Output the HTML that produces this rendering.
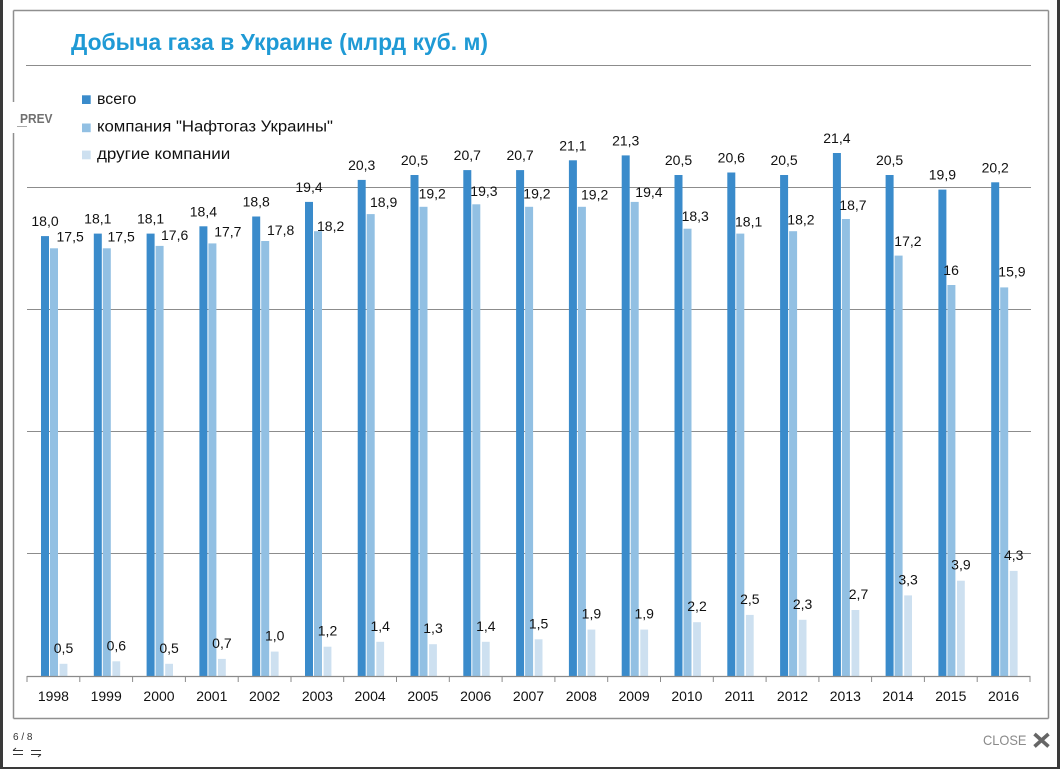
<!DOCTYPE html>
<html><head><meta charset="utf-8"><style>
html,body{margin:0;padding:0;background:#fff;width:1060px;height:769px;overflow:hidden}
svg{display:block}
text{font-family:"Liberation Sans",sans-serif}
</style></head><body>
<svg width="1060" height="769" viewBox="0 0 1060 769" xmlns="http://www.w3.org/2000/svg">
<rect x="0" y="0" width="1060" height="769" fill="#fff"/>
<!-- frame -->
<line x1="13.5" y1="10.5" x2="1048.5" y2="10.5" stroke="#8f8f8f" stroke-width="1.5"/>
<line x1="1048.5" y1="10.5" x2="1048.5" y2="718.5" stroke="#8f8f8f" stroke-width="1.5"/>
<line x1="13.5" y1="718.5" x2="1048.5" y2="718.5" stroke="#8f8f8f" stroke-width="1.5"/>
<line x1="13.5" y1="10.5" x2="13.5" y2="102" stroke="#8f8f8f" stroke-width="1.5"/>
<line x1="13.5" y1="133" x2="13.5" y2="718.5" stroke="#8f8f8f" stroke-width="1.5"/>
<!-- dark strips -->
<rect x="0" y="0" width="3" height="769" fill="#3a3a3a"/>
<rect x="1057" y="0" width="3" height="769" fill="#3a3a3a"/>
<rect x="0" y="767" width="1060" height="2" fill="#3a3a3a"/>

<!-- title -->
<text x="71" y="50" font-size="23" font-weight="bold" fill="#1f9ad5" textLength="417" lengthAdjust="spacingAndGlyphs">Добыча газа в Украине (млрд куб. м)</text>

<!-- gridlines -->
<g stroke="#8c8c8c" stroke-width="1">
<line x1="26" y1="65.5" x2="1031" y2="65.5"/>
<line x1="27" y1="187.5" x2="1031" y2="187.5"/>
<line x1="27" y1="309.5" x2="1031" y2="309.5"/>
<line x1="27" y1="431.5" x2="1031" y2="431.5"/>
<line x1="27" y1="553.5" x2="1031" y2="553.5"/>
</g>

<!-- legend -->
<rect x="82" y="95.3" width="8.7" height="8.7" fill="#3a8bcb"/>
<text x="97" y="104" font-size="15.5" fill="#111" textLength="39.3" lengthAdjust="spacingAndGlyphs">всего</text>
<rect x="82" y="123.5" width="8.7" height="8.7" fill="#92c0e3"/>
<text x="97" y="131.5" font-size="15.5" fill="#111" textLength="236" lengthAdjust="spacingAndGlyphs">компания "Нафтогаз Украины"</text>
<rect x="82" y="150.6" width="8.7" height="8.7" fill="#cde0f0"/>
<text x="97" y="159" font-size="15.5" fill="#111" textLength="133.3" lengthAdjust="spacingAndGlyphs">другие компании</text>

<!-- PREV -->
<text x="20" y="123" font-size="13" font-weight="bold" fill="#707070" textLength="32.5" lengthAdjust="spacingAndGlyphs">PREV</text>
<line x1="17" y1="126.5" x2="27" y2="126.5" stroke="#aaa" stroke-width="1"/>

<!-- dark bars (всего) -->
<g fill="#3a8bcb">
<rect x="41.0" y="236.1" width="8" height="439.9"/>
<rect x="93.8" y="233.6" width="8" height="442.4"/>
<rect x="146.6" y="233.6" width="8" height="442.4"/>
<rect x="199.4" y="226.3" width="8" height="449.7"/>
<rect x="252.2" y="216.5" width="8" height="459.5"/>
<rect x="305.0" y="201.9" width="8" height="474.1"/>
<rect x="357.7" y="179.9" width="8" height="496.1"/>
<rect x="410.5" y="175.0" width="8" height="501.0"/>
<rect x="463.3" y="170.1" width="8" height="505.9"/>
<rect x="516.1" y="170.1" width="8" height="505.9"/>
<rect x="568.9" y="160.3" width="8" height="515.7"/>
<rect x="621.7" y="155.4" width="8" height="520.6"/>
<rect x="674.5" y="175.0" width="8" height="501.0"/>
<rect x="727.3" y="172.5" width="8" height="503.5"/>
<rect x="780.1" y="175.0" width="8" height="501.0"/>
<rect x="832.9" y="153.0" width="8" height="523.0"/>
<rect x="885.6" y="175.0" width="8" height="501.0"/>
<rect x="938.4" y="189.6" width="8" height="486.4"/>
<rect x="991.2" y="182.3" width="8" height="493.7"/>
</g>
<!-- mid bars (Нафтогаз) -->
<g fill="#92c0e3">
<rect x="50.0" y="248.3" width="8" height="427.7"/>
<rect x="102.8" y="248.3" width="8" height="427.7"/>
<rect x="155.6" y="245.9" width="8" height="430.1"/>
<rect x="208.4" y="243.4" width="8" height="432.6"/>
<rect x="261.2" y="241.0" width="8" height="435.0"/>
<rect x="314.0" y="231.2" width="8" height="444.8"/>
<rect x="366.7" y="214.1" width="8" height="461.9"/>
<rect x="419.5" y="206.8" width="8" height="469.2"/>
<rect x="472.3" y="204.3" width="8" height="471.7"/>
<rect x="525.1" y="206.8" width="8" height="469.2"/>
<rect x="577.9" y="206.8" width="8" height="469.2"/>
<rect x="630.7" y="201.9" width="8" height="474.1"/>
<rect x="683.5" y="228.7" width="8" height="447.3"/>
<rect x="736.3" y="233.6" width="8" height="442.4"/>
<rect x="789.1" y="231.2" width="8" height="444.8"/>
<rect x="841.9" y="219.0" width="8" height="457.0"/>
<rect x="894.6" y="255.6" width="8" height="420.4"/>
<rect x="947.4" y="285.0" width="8" height="391.0"/>
<rect x="1000.2" y="287.4" width="8" height="388.6"/>
</g>
<!-- light bars (другие) -->
<g fill="#cde0f0">
<rect x="59.6" y="663.8" width="7.8" height="12.2"/>
<rect x="112.4" y="661.3" width="7.8" height="14.7"/>
<rect x="165.2" y="663.8" width="7.8" height="12.2"/>
<rect x="218.0" y="658.9" width="7.8" height="17.1"/>
<rect x="270.8" y="651.6" width="7.8" height="24.4"/>
<rect x="323.6" y="646.7" width="7.8" height="29.3"/>
<rect x="376.3" y="641.8" width="7.8" height="34.2"/>
<rect x="429.1" y="644.2" width="7.8" height="31.8"/>
<rect x="481.9" y="641.8" width="7.8" height="34.2"/>
<rect x="534.7" y="639.3" width="7.8" height="36.7"/>
<rect x="587.5" y="629.6" width="7.8" height="46.4"/>
<rect x="640.3" y="629.6" width="7.8" height="46.4"/>
<rect x="693.1" y="622.2" width="7.8" height="53.8"/>
<rect x="745.9" y="614.9" width="7.8" height="61.1"/>
<rect x="798.7" y="619.8" width="7.8" height="56.2"/>
<rect x="851.5" y="610.0" width="7.8" height="66.0"/>
<rect x="904.2" y="595.4" width="7.8" height="80.6"/>
<rect x="957.0" y="580.7" width="7.8" height="95.3"/>
<rect x="1009.8" y="570.9" width="7.8" height="105.1"/>
</g>

<!-- axis -->
<line x1="27" y1="676.5" x2="1030.5" y2="676.5" stroke="#8a8a8a" stroke-width="1.2"/>
<g stroke="#8a8a8a" stroke-width="1">
<line x1="27.0" y1="676" x2="27.0" y2="682"/>
<line x1="79.8" y1="676" x2="79.8" y2="682"/>
<line x1="132.6" y1="676" x2="132.6" y2="682"/>
<line x1="185.4" y1="676" x2="185.4" y2="682"/>
<line x1="238.2" y1="676" x2="238.2" y2="682"/>
<line x1="291.0" y1="676" x2="291.0" y2="682"/>
<line x1="343.7" y1="676" x2="343.7" y2="682"/>
<line x1="396.5" y1="676" x2="396.5" y2="682"/>
<line x1="449.3" y1="676" x2="449.3" y2="682"/>
<line x1="502.1" y1="676" x2="502.1" y2="682"/>
<line x1="554.9" y1="676" x2="554.9" y2="682"/>
<line x1="607.7" y1="676" x2="607.7" y2="682"/>
<line x1="660.5" y1="676" x2="660.5" y2="682"/>
<line x1="713.3" y1="676" x2="713.3" y2="682"/>
<line x1="766.1" y1="676" x2="766.1" y2="682"/>
<line x1="818.9" y1="676" x2="818.9" y2="682"/>
<line x1="871.6" y1="676" x2="871.6" y2="682"/>
<line x1="924.4" y1="676" x2="924.4" y2="682"/>
<line x1="977.2" y1="676" x2="977.2" y2="682"/>
<line x1="1030.0" y1="676" x2="1030.0" y2="682"/>
</g>

<!-- year labels -->
<g font-size="14" fill="#111" text-anchor="middle">
<text x="53.4" y="701">1998</text>
<text x="106.2" y="701">1999</text>
<text x="159.0" y="701">2000</text>
<text x="211.8" y="701">2001</text>
<text x="264.6" y="701">2002</text>
<text x="317.4" y="701">2003</text>
<text x="370.1" y="701">2004</text>
<text x="422.9" y="701">2005</text>
<text x="475.7" y="701">2006</text>
<text x="528.5" y="701">2007</text>
<text x="581.3" y="701">2008</text>
<text x="634.1" y="701">2009</text>
<text x="686.9" y="701">2010</text>
<text x="739.7" y="701">2011</text>
<text x="792.5" y="701">2012</text>
<text x="845.3" y="701">2013</text>
<text x="898.0" y="701">2014</text>
<text x="950.8" y="701">2015</text>
<text x="1003.6" y="701">2016</text>
</g>

<!-- dark labels -->
<g font-size="14" fill="#111" text-anchor="middle">
<text x="45.0" y="226.1">18,0</text>
<text x="97.8" y="223.6">18,1</text>
<text x="150.6" y="223.6">18,1</text>
<text x="203.4" y="216.3">18,4</text>
<text x="256.2" y="206.5">18,8</text>
<text x="309.0" y="191.9">19,4</text>
<text x="361.7" y="169.9">20,3</text>
<text x="414.5" y="165.0">20,5</text>
<text x="467.3" y="160.1">20,7</text>
<text x="520.1" y="160.1">20,7</text>
<text x="572.9" y="150.3">21,1</text>
<text x="625.7" y="145.4">21,3</text>
<text x="678.5" y="165.0">20,5</text>
<text x="731.3" y="162.5">20,6</text>
<text x="784.1" y="165.0">20,5</text>
<text x="836.9" y="143.0">21,4</text>
<text x="889.6" y="165.0">20,5</text>
<text x="942.4" y="179.6">19,9</text>
<text x="995.2" y="172.3">20,2</text>
</g>

<!-- mid labels -->
<g font-size="14" fill="#111">
<text x="56.5" y="241.7">17,5</text>
<text x="107.5" y="241.7">17,5</text>
<text x="161" y="240">17,6</text>
<text x="214.2" y="236.7">17,7</text>
<text x="267" y="235">17,8</text>
<text x="317" y="231">18,2</text>
<text x="370" y="207">18,9</text>
<text x="418.6" y="198.3">19,2</text>
<text x="470.3" y="196">19,3</text>
<text x="523.3" y="198.3">19,2</text>
<text x="581" y="199.3">19,2</text>
<text x="635.3" y="197">19,4</text>
<text x="681.6" y="221">18,3</text>
<text x="735" y="226.7">18,1</text>
<text x="787.3" y="224.3">18,2</text>
<text x="839.3" y="210">18,7</text>
<text x="894.3" y="246">17,2</text>
<text x="943.3" y="275">16</text>
<text x="998.3" y="276.7">15,9</text>
</g>

<!-- light labels -->
<g font-size="14" fill="#111" text-anchor="middle">
<text x="63.5" y="652.8">0,5</text>
<text x="116.3" y="650.3">0,6</text>
<text x="169.1" y="652.8">0,5</text>
<text x="221.9" y="647.9">0,7</text>
<text x="274.7" y="640.6">1,0</text>
<text x="327.5" y="635.7">1,2</text>
<text x="380.2" y="630.8">1,4</text>
<text x="433.0" y="633.2">1,3</text>
<text x="485.8" y="630.8">1,4</text>
<text x="538.6" y="628.3">1,5</text>
<text x="591.4" y="618.6">1,9</text>
<text x="644.2" y="618.6">1,9</text>
<text x="697.0" y="611.2">2,2</text>
<text x="749.8" y="603.9">2,5</text>
<text x="802.6" y="608.8">2,3</text>
<text x="858.5" y="599.0">2,7</text>
<text x="908.1" y="584.4">3,3</text>
<text x="960.9" y="569.7">3,9</text>
<text x="1013.7" y="559.9">4,3</text>
</g>

<!-- bottom nav -->
<text x="13" y="740" font-size="10" fill="#333" font-family="Liberation Mono, monospace">6 / 8</text>
<g stroke="#333" stroke-width="1" fill="none">
<path d="M13 750.5 H23 M13 750.5 L16 748"/>
<path d="M13 754.5 H23"/>
<path d="M31 750.5 H41"/>
<path d="M31 754.5 H41 M41 754.5 L38 757"/>
</g>
<text x="983" y="745" font-size="14" fill="#8a8a8a" textLength="43.5" lengthAdjust="spacingAndGlyphs">CLOSE</text>
<g stroke="#666" stroke-width="3.6" stroke-linecap="butt">
<line x1="1034.5" y1="734" x2="1048.5" y2="746.5"/>
<line x1="1048.5" y1="734" x2="1034.5" y2="746.5"/>
</g>
</svg>
</body></html>
